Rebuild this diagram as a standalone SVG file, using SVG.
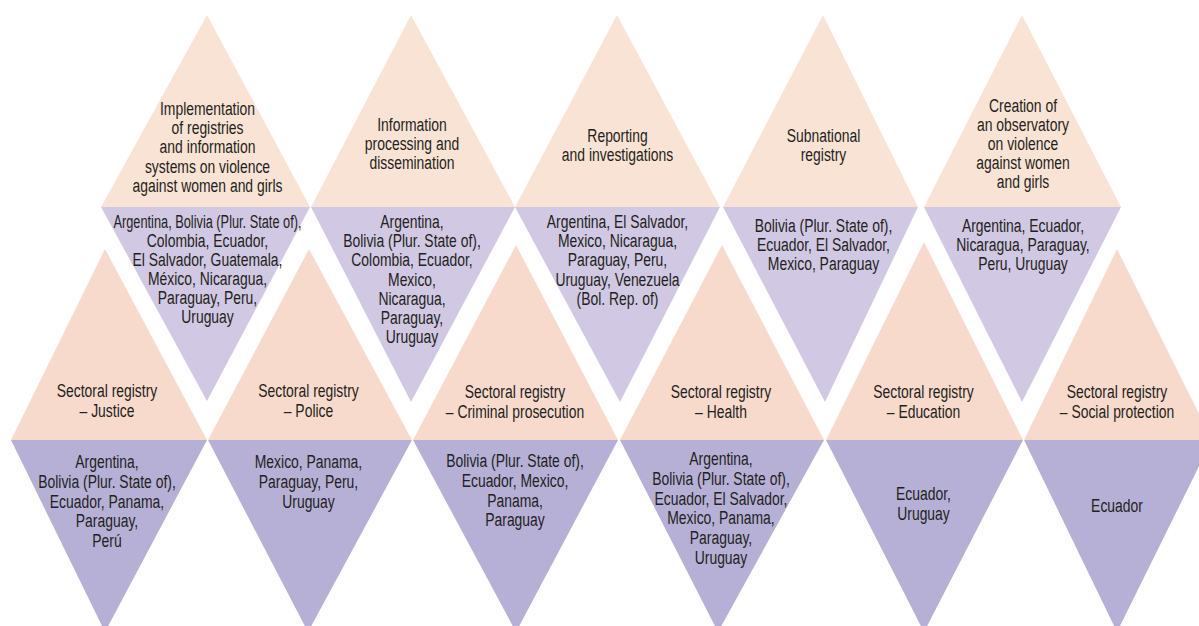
<svg xmlns="http://www.w3.org/2000/svg" width="1199" height="626" viewBox="0 0 1199 626">
<style>
.t{font-family:"Liberation Sans",Arial,sans-serif;font-size:17.6px;fill:#231f20;text-anchor:middle}
.pt{fill:#F9E3D5}
.lt{fill:#D1C8E3}
.pb{fill:#F7DACC}
.lb{fill:#B6B0D7}
</style>
<rect width="1199" height="626" fill="#ffffff"/>

<!-- Top row -->
<g id="top1">
<polygon class="pt" points="207,15 310,207 101,207"/>
<polygon class="lt" points="101,207 310,207 207,401"/>
<g transform="translate(207.5,0) scale(0.79,1)">
<text class="t"><tspan x="0" y="115">Implementation</tspan><tspan x="0" y="134.2">of registries</tspan><tspan x="0" y="153.4">and information</tspan><tspan x="0" y="172.6">systems on violence</tspan><tspan x="0" y="191.8">against women and girls</tspan></text>
<text class="t"><tspan x="0" y="228" textLength="238" lengthAdjust="spacingAndGlyphs">Argentina, Bolivia (Plur. State of),</tspan><tspan x="0" y="247.1">Colombia, Ecuador,</tspan><tspan x="0" y="266.2">El Salvador, Guatemala,</tspan><tspan x="0" y="285.3">México, Nicaragua,</tspan><tspan x="0" y="304.4">Paraguay, Peru,</tspan><tspan x="0" y="323.5">Uruguay</tspan></text>
</g>
</g>

<g id="top2">
<polygon class="pt" points="411,15 515,207 311,207"/>
<polygon class="lt" points="311,207 515,207 411,402"/>
<g transform="translate(412,0) scale(0.79,1)">
<text class="t"><tspan x="0" y="131.5">Information</tspan><tspan x="0" y="150.5">processing and</tspan><tspan x="0" y="169.5">dissemination</tspan></text>
<text class="t"><tspan x="0" y="228.3">Argentina,</tspan><tspan x="0" y="247.4">Bolivia (Plur. State of),</tspan><tspan x="0" y="266.5">Colombia, Ecuador,</tspan><tspan x="0" y="285.6">Mexico,</tspan><tspan x="0" y="304.7">Nicaragua,</tspan><tspan x="0" y="323.8">Paraguay,</tspan><tspan x="0" y="342.9">Uruguay</tspan></text>
</g>
</g>

<g id="top3">
<polygon class="pt" points="617,15 720,207 515,207"/>
<polygon class="lt" points="515,207 720,207 620,402"/>
<g transform="translate(617.5,0) scale(0.79,1)">
<text class="t"><tspan x="0" y="141.7">Reporting</tspan><tspan x="0" y="160.7">and investigations</tspan></text>
<text class="t"><tspan x="0" y="228.3">Argentina, El Salvador,</tspan><tspan x="0" y="247.4">Mexico, Nicaragua,</tspan><tspan x="0" y="266.5">Paraguay, Peru,</tspan><tspan x="0" y="285.6">Uruguay, Venezuela</tspan><tspan x="0" y="304.7">(Bol. Rep. of)</tspan></text>
</g>
</g>

<g id="top4">
<polygon class="pt" points="823,15 918,207 723,207"/>
<polygon class="lt" points="723,207 918,207 825,402"/>
<g transform="translate(823.5,0) scale(0.79,1)">
<text class="t"><tspan x="0" y="141.7">Subnational</tspan><tspan x="0" y="160.7">registry</tspan></text>
<text class="t"><tspan x="0" y="231.7">Bolivia (Plur. State of),</tspan><tspan x="0" y="250.7">Ecuador, El Salvador,</tspan><tspan x="0" y="269.7">Mexico, Paraguay</tspan></text>
</g>
</g>

<g id="top5">
<polygon class="pt" points="1022,15 1121,207 924,207"/>
<polygon class="lt" points="924,207 1121,207 1022,402"/>
<g transform="translate(1023,0) scale(0.79,1)">
<text class="t"><tspan x="0" y="112.3">Creation of</tspan><tspan x="0" y="131.3">an observatory</tspan><tspan x="0" y="150.3">on violence</tspan><tspan x="0" y="169.3">against women</tspan><tspan x="0" y="188.3">and girls</tspan></text>
<text class="t"><tspan x="0" y="231.7">Argentina, Ecuador,</tspan><tspan x="0" y="250.7">Nicaragua, Paraguay,</tspan><tspan x="0" y="269.7">Peru, Uruguay</tspan></text>
</g>
</g>

<!-- Bottom row -->
<g id="bottom1">
<polygon class="pb" points="105,249 207,440 11,440"/>
<polygon class="lb" points="11,440 207,440 105,632"/>
<g transform="translate(107,0) scale(0.79,1)">
<text class="t"><tspan x="0" y="397.5">Sectoral registry</tspan><tspan x="0" y="417.3">– Justice</tspan></text>
<text class="t"><tspan x="0" y="468.3">Argentina,</tspan><tspan x="0" y="488">Bolivia (Plur. State of),</tspan><tspan x="0" y="507.7">Ecuador, Panama,</tspan><tspan x="0" y="527.4">Paraguay,</tspan><tspan x="0" y="547.1">Perú</tspan></text>
</g>
</g>

<g id="bottom2">
<polygon class="pb" points="309,249 412,440 208,440"/>
<polygon class="lb" points="208,440 412,440 308,632"/>
<g transform="translate(308.5,0) scale(0.79,1)">
<text class="t"><tspan x="0" y="397.5">Sectoral registry</tspan><tspan x="0" y="417.3">– Police</tspan></text>
<text class="t"><tspan x="0" y="468.3">Mexico, Panama,</tspan><tspan x="0" y="488">Paraguay, Peru,</tspan><tspan x="0" y="507.7">Uruguay</tspan></text>
</g>
</g>

<g id="bottom3">
<polygon class="pb" points="516,245 618,440 413,440"/>
<polygon class="lb" points="413,440 618,440 516,632"/>
<g transform="translate(515,0) scale(0.79,1)">
<text class="t"><tspan x="0" y="398.3">Sectoral registry</tspan><tspan x="0" y="418.3">– Criminal prosecution</tspan></text>
<text class="t"><tspan x="0" y="467.3">Bolivia (Plur. State of),</tspan><tspan x="0" y="487">Ecuador, Mexico,</tspan><tspan x="0" y="506.7">Panama,</tspan><tspan x="0" y="526.4">Paraguay</tspan></text>
</g>
</g>

<g id="bottom4">
<polygon class="pb" points="722,245 824,440 620,440"/>
<polygon class="lb" points="620,440 824,440 718,632"/>
<g transform="translate(721,0) scale(0.79,1)">
<text class="t"><tspan x="0" y="398.3">Sectoral registry</tspan><tspan x="0" y="418.3">– Health</tspan></text>
<text class="t"><tspan x="0" y="465">Argentina,</tspan><tspan x="0" y="484.8">Bolivia (Plur. State of),</tspan><tspan x="0" y="504.6">Ecuador, El Salvador,</tspan><tspan x="0" y="524.4">Mexico, Panama,</tspan><tspan x="0" y="544.2">Paraguay,</tspan><tspan x="0" y="564">Uruguay</tspan></text>
</g>
</g>

<g id="bottom5">
<polygon class="pb" points="924,242 1023,440 826,440"/>
<polygon class="lb" points="826,440 1023,440 924,632"/>
<g transform="translate(923.5,0) scale(0.79,1)">
<text class="t"><tspan x="0" y="398.3">Sectoral registry</tspan><tspan x="0" y="418.3">– Education</tspan></text>
<text class="t"><tspan x="0" y="500">Ecuador,</tspan><tspan x="0" y="519.8">Uruguay</tspan></text>
</g>
</g>

<g id="bottom6">
<polygon class="pb" points="1117,249 1212,440 1024,440"/>
<polygon class="lb" points="1024,440 1212,440 1117,632"/>
<g transform="translate(1117,0) scale(0.79,1)">
<text class="t"><tspan x="0" y="398.3">Sectoral registry</tspan><tspan x="0" y="418.3">– Social protection</tspan></text>
<text class="t"><tspan x="0" y="511.7">Ecuador</tspan></text>
</g>
</g>
</svg>
